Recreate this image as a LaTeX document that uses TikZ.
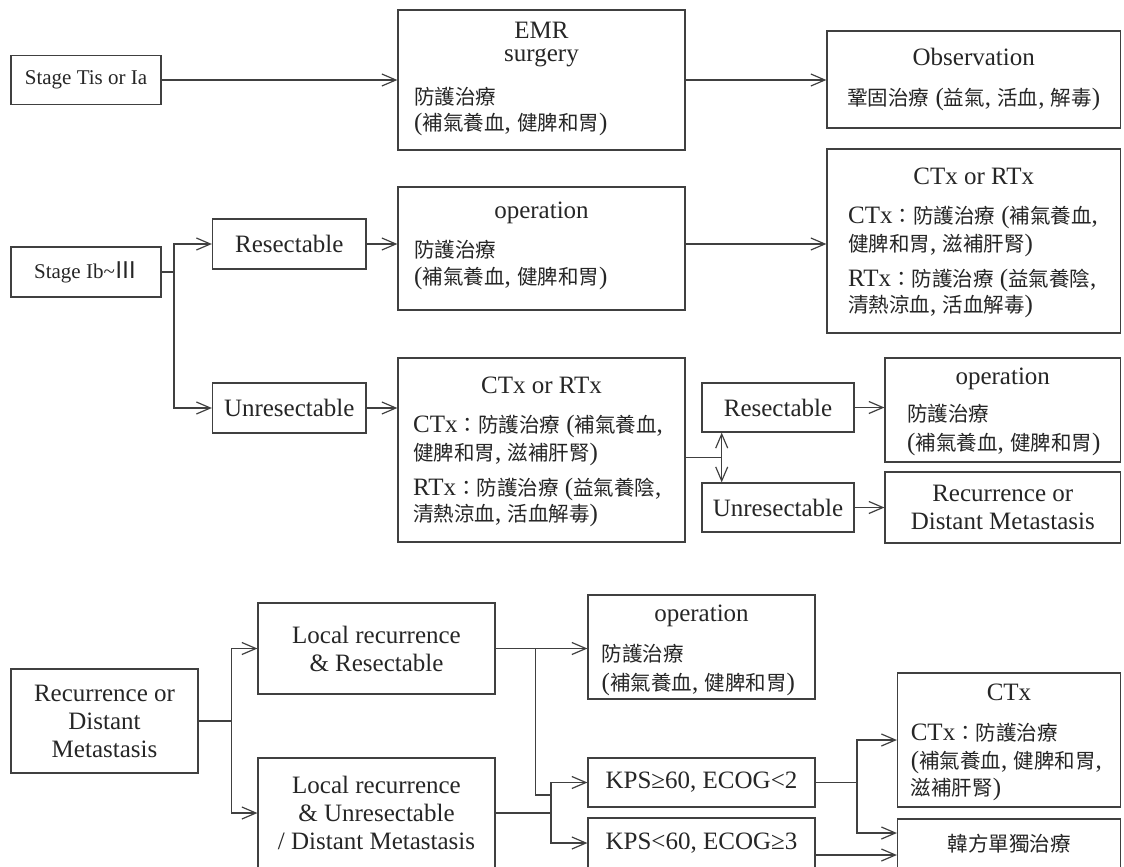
\documentclass[tikz,border=0pt]{standalone}
\usepackage{fontspec}
\setmainfont{Liberation Serif}
\newfontfamily\cjkfont[Scale=0.82]{Noto Sans CJK TC}
\newcommand{\cjktxt}[1]{{\cjkfont #1}}
\usetikzlibrary{arrows.meta}

\begin{document}
\begin{tikzpicture}[x=1pt,y=-1pt]
\tikzstyle{every node}=[font=\fontsize{25}{28}\selectfont, text=black!85]
\tikzstyle{box}=[draw=black!75, line width=1.2pt, inner sep=0pt, align=center]
\tikzstyle{txt}=[inner sep=0pt]
\tikzstyle{ln}=[draw=black!75, line width=1.2pt]
\tikzstyle{arr}=[draw=black!75, line width=1.2pt, -{Straight Barb[length=14pt,width=12pt]}]
\clip (0,0) rectangle (1124,867);
\fill[white] (0,0) rectangle (1124,867);
\node[box, font=\fontsize{21}{25}\selectfont, minimum width=150pt, minimum height=49pt] (tis) at (86,80) {Stage Tis or Ia};
\node[box, minimum width=287pt, minimum height=140pt] (emr) at (541.5,80) {};
\node[txt, anchor=base] (emrA) at (541.5,39) {EMR};
\node[txt, anchor=base] (emrB) at (541.5,62) {surgery};
\node[txt, anchor=base west] (emrC) at (414,104) {\cjktxt{防護治療}};
\node[txt, anchor=base west] (emrD) at (414,130) {(\cjktxt{補氣養血}, \cjktxt{健脾和胃})};
\node[box, minimum width=293.5pt, minimum height=97pt] (obs) at (973.75,79.5) {};
\node[txt, anchor=base] (obsA) at (973.75,66) {Observation};
\node[txt, anchor=base] (obsB) at (973.75,105) {\cjktxt{鞏固治療} (\cjktxt{益氣}, \cjktxt{活血}, \cjktxt{解毒})};
\node[box, font=\fontsize{21}{25}\selectfont, minimum width=150pt, minimum height=50pt] (ib) at (86,272) {Stage Ib\textasciitilde{\fontsize{28}{28}\selectfont\cjkfont Ⅲ}};
\node[box, minimum width=153.5pt, minimum height=50pt] (res1) at (289.25,244) {Resectable};
\node[box, minimum width=287pt, minimum height=123pt] (op1) at (541.5,248.5) {};
\node[txt, anchor=base] (op1A) at (541.5,218) {operation};
\node[txt, anchor=base west] (op1B) at (414,257) {\cjktxt{防護治療}};
\node[txt, anchor=base west] (op1C) at (414,284) {(\cjktxt{補氣養血}, \cjktxt{健脾和胃})};
\node[box, minimum width=293.5pt, minimum height=184pt] (ct1) at (973.75,241) {};
\node[txt, anchor=base] (ct1A) at (973.75,184) {CTx or RTx};
\node[txt, anchor=base west] (ct1B) at (848,223) {CTx\cjktxt{：防護治療} (\cjktxt{補氣養血},};
\node[txt, anchor=base west] (ct1C) at (848,251) {\cjktxt{健脾和胃}, \cjktxt{滋補肝腎})};
\node[txt, anchor=base west] (ct1D) at (848,286) {RTx\cjktxt{：防護治療} (\cjktxt{益氣養陰},};
\node[txt, anchor=base west] (ct1E) at (848,312) {\cjktxt{清熱涼血}, \cjktxt{活血解毒})};
\node[box, minimum width=153.5pt, minimum height=50pt] (unres1) at (289.25,408) {Unresectable};
\node[box, minimum width=287pt, minimum height=184pt] (ct2) at (541.5,450) {};
\node[txt, anchor=base] (ct2A) at (541.5,393) {CTx or RTx};
\node[txt, anchor=base west] (ct2B) at (413,432) {CTx\cjktxt{：防護治療} (\cjktxt{補氣養血},};
\node[txt, anchor=base west] (ct2C) at (413,460) {\cjktxt{健脾和胃}, \cjktxt{滋補肝腎})};
\node[txt, anchor=base west] (ct2D) at (413,495) {RTx\cjktxt{：防護治療} (\cjktxt{益氣養陰},};
\node[txt, anchor=base west] (ct2E) at (413,521) {\cjktxt{清熱涼血}, \cjktxt{活血解毒})};
\node[box, minimum width=152pt, minimum height=49pt] (res2) at (778,407.5) {Resectable};
\node[box, minimum width=235.5pt, minimum height=104pt] (op2) at (1002.75,410) {};
\node[txt, anchor=base] (op2A) at (1002.75,384) {operation};
\node[txt, anchor=base west] (op2B) at (907,421) {\cjktxt{防護治療}};
\node[txt, anchor=base west] (op2C) at (907,450) {(\cjktxt{補氣養血}, \cjktxt{健脾和胃})};
\node[box, minimum width=152pt, minimum height=49pt] (unres2) at (778,507.5) {Unresectable};
\node[box, minimum width=235.5pt, minimum height=71pt] (rec2) at (1002.75,507.5) {Recurrence or\\Distant Metastasis};
\node[box, minimum width=187pt, minimum height=104pt] (rec3) at (104.5,721) {Recurrence or\\Distant\\Metastasis};
\node[box, minimum width=237pt, minimum height=91pt] (lres) at (376.5,648.5) {Local recurrence\\\& Resectable};
\node[box, minimum width=237pt, minimum height=110pt] (lunres) at (376.5,813) {Local recurrence\\\& Unresectable\\/ Distant Metastasis};
\node[box, minimum width=227pt, minimum height=104pt] (op3) at (701.5,647) {};
\node[txt, anchor=base] (op3A) at (701.5,621) {operation};
\node[txt, anchor=base west] (op3B) at (601.5,661) {\cjktxt{防護治療}};
\node[txt, anchor=base west] (op3C) at (601.5,690) {(\cjktxt{補氣養血}, \cjktxt{健脾和胃})};
\node[box, minimum width=227pt, minimum height=49pt] (kps1) at (701.5,782.5) {KPS≥60, ECOG<2};
\node[box, minimum width=227pt, minimum height=50pt] (kps2) at (701.5,843) {KPS<60, ECOG≥3};
\node[box, minimum width=223pt, minimum height=134pt] (ctx3) at (1009,740) {};
\node[txt, anchor=base] (ctx3A) at (1009,700) {CTx};
\node[txt, anchor=base west] (ctx3B) at (910.6,740) {CTx\cjktxt{：防護治療}};
\node[txt, anchor=base west] (ctx3C) at (910.6,768) {(\cjktxt{補氣養血}, \cjktxt{健脾和胃},};
\node[txt, anchor=base west] (ctx3D) at (910.6,795) {\cjktxt{滋補肝腎})};
\node[box, minimum width=223pt, minimum height=49pt] (kor) at (1009,843.5) {\cjktxt{韓方單獨治療}};
\draw[arr] (tis.east) -- (tis.east -| emr.west);
\draw[arr] (emr.east |- tis.east) -- (obs.west |- tis.east);
\coordinate (j1) at (174,272);
\draw[ln] (ib.east) -- (j1);
\draw[arr] (j1) |- (res1.west);
\draw[arr] (j1) |- (unres1.west);
\draw[arr] (res1.east) -- (res1.east -| op1.west);
\draw[arr] (op1.east |- res1.east) -- (ct1.west |- res1.east);
\draw[arr] (unres1.east) -- (unres1.east -| ct2.west);
\coordinate (j2) at (721.7,457.5);
\draw[ln] (ct2.east |- j2) -- (j2);
\draw[arr] (j2) -- (j2 |- res2.south);
\draw[arr] (j2) -- (j2 |- unres2.north);
\draw[arr] (res2.east) -- (res2.east -| op2.west);
\draw[arr] (unres2.east) -- (unres2.east -| rec2.west);
\coordinate (j3) at (231.4,721);
\draw[ln] (rec3.east) -- (j3);
\draw[arr] (j3) |- (lres.west);
\draw[arr] (j3) |- (lunres.west);
\draw[arr] (lres.east) -- (lres.east -| op3.west);
\coordinate (j4) at (535.7,795);
\coordinate (j5) at (551,795);
\draw[ln] (lres.east -| j4) -- (j4) -- (j5);
\draw[ln] (lunres.east) -- (lunres.east -| j5);
\draw[arr] (j5) |- (kps1.west);
\draw[arr] (j5) |- (kps2.west);
\coordinate (j6) at (857,782.5);
\draw[ln] (kps1.east) -- (j6);
\draw[arr] (j6) |- (ctx3.west);
\draw[arr] (j6) |- ([yshift=10.5pt]kor.west);
\draw[arr] ([yshift=-12pt]kps2.east) -- ([yshift=-12pt]kps2.east -| kor.west);
\end{tikzpicture}
\end{document}
